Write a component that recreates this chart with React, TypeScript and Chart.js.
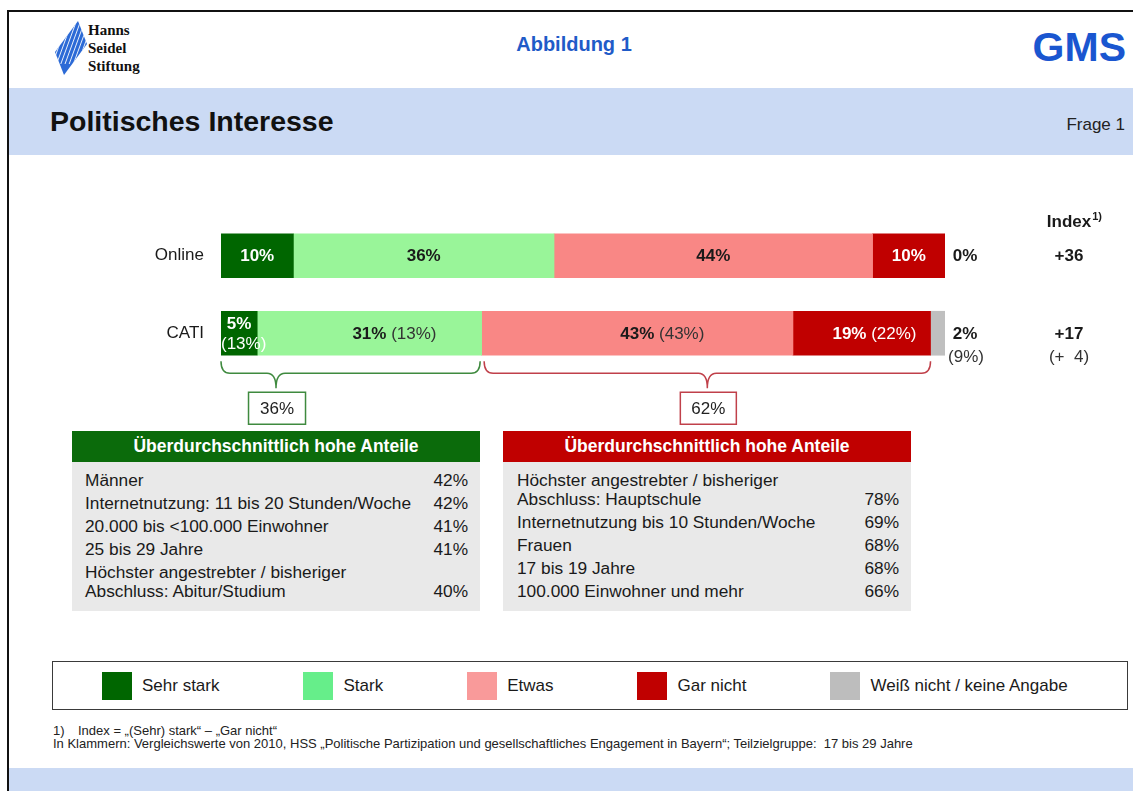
import React, { useEffect, useRef } from "react";
import { Chart, registerables } from "chart.js";

Chart.register(...registerables);

const FONT = '"Liberation Sans", Arial, Helvetica, sans-serif';
Chart.defaults.font.family = FONT;

// ---------------- data ----------------
const categories = ["Online", "CATI"];
const seriesLabels = ["Sehr stark", "Stark", "Etwas", "Gar nicht", "Weiß nicht / keine Angabe"];
const sehrStark = [10, 5];
const stark = [36, 31];
const etwas = [44, 43];
const garNicht = [10, 19];
const weissNicht = [0, 2];
// Vergleichswerte 2010 (only CATI)
const sehrStark2010 = [null, 13];
const stark2010 = [null, 13];
const etwas2010 = [null, 43];
const garNicht2010 = [null, 22];
const weissNicht2010 = [null, 9];

const barColors = ["#006600", "#99f599", "#f98785", "#c00000", "#bfbfbf"];
const legendColors = ["#006600", "#66ee8a", "#f99a9a", "#c00000", "#bdbdbd"];
const valueColors = ["#ffffff", "#1a1a1a", "#1a1a1a", "#ffffff", "#1a1a1a"];
const compColors = ["#ffffff", "#333333", "#333333", "#ffffff", "#333333"];

const tableTitle = "Überdurchschnittlich hohe Anteile";
const greenTableLabels = [
  "Männer",
  "Internetnutzung: 11 bis 20 Stunden/Woche",
  "20.000 bis <100.000 Einwohner",
  "25 bis 29 Jahre",
  "Höchster angestrebter / bisheriger\nAbschluss: Abitur/Studium",
];
const greenTableValues = [42, 42, 41, 41, 40];
const redTableLabels = [
  "Höchster angestrebter / bisheriger\nAbschluss: Hauptschule",
  "Internetnutzung bis 10 Stunden/Woche",
  "Frauen",
  "17 bis 19 Jahre",
  "100.000 Einwohner und mehr",
];
const redTableValues = [78, 69, 68, 68, 66];

const seriesValues = [sehrStark, stark, etwas, garNicht, weissNicht];
const seriesValues2010 = [sehrStark2010, stark2010, etwas2010, garNicht2010, weissNicht2010];

// layout constants
const GREEN_BRACE_TIP = 7.6; // in % units on the value axis

const bold = (s: number) => `bold ${s}px ${FONT}`;
const normal = (s: number) => `${s}px ${FONT}`;

function drawBrace(ctx: CanvasRenderingContext2D, x1: number, x2: number, tip: number, yTop: number, color: string) {
  const yMid = yTop + 12;
  const yTip = yTop + 27;
  const r = 9;
  ctx.strokeStyle = color;
  ctx.lineWidth = 1.5;
  ctx.beginPath();
  ctx.moveTo(x1, yTop);
  ctx.quadraticCurveTo(x1, yMid, x1 + r, yMid);
  ctx.lineTo(tip - r, yMid);
  ctx.quadraticCurveTo(tip, yMid, tip, yTip);
  ctx.quadraticCurveTo(tip, yMid, tip + r, yMid);
  ctx.lineTo(x2 - r, yMid);
  ctx.quadraticCurveTo(x2, yMid, x2, yTop);
  ctx.stroke();
}

function drawBox(ctx: CanvasRenderingContext2D, cx: number, top: number, w: number, h: number, color: string, text: string) {
  ctx.fillStyle = "#ffffff";
  ctx.fillRect(cx - w / 2, top, w, h);
  ctx.strokeStyle = color;
  ctx.lineWidth = 1.5;
  ctx.strokeRect(cx - w / 2, top, w, h);
  ctx.fillStyle = "#222222";
  ctx.font = normal(17);
  ctx.textAlign = "center";
  ctx.textBaseline = "middle";
  ctx.fillText(text, cx, top + h / 2 + 1);
}

const annotatePlugin = {
  id: "annotate",
  afterDatasetsDraw(chart: any) {
    const { ctx, chartArea } = chart;
    const xs = chart.scales.x;
    ctx.save();
    ctx.textBaseline = "middle";
    const n = seriesValues.length;
    for (let i = 0; i < categories.length; i++) {
      let yc = 0;
      for (let d = 0; d < n - 1; d++) {
        const el = chart.getDatasetMeta(d).data[i];
        const p = el.getProps(["x", "base", "y"], true);
        const left = Math.min(p.x, p.base);
        const right = Math.max(p.x, p.base);
        yc = p.y;
        const cx = (left + right) / 2;
        const v = seriesValues[d][i];
        const c = seriesValues2010[d][i];
        const vStr = `${v}%`;
        if (c === null || c === undefined) {
          ctx.font = bold(17);
          ctx.fillStyle = valueColors[d];
          ctx.textAlign = "center";
          ctx.fillText(vStr, cx, yc + 1);
          continue;
        }
        const cStr = `(${c}%)`;
        ctx.font = bold(17);
        const wv = ctx.measureText(vStr).width;
        ctx.font = normal(17);
        const wc = ctx.measureText(" " + cStr).width;
        const wc2 = ctx.measureText(cStr).width;
        if (wv + wc + 8 > right - left) {
          ctx.textAlign = "center";
          ctx.font = bold(17);
          ctx.fillStyle = valueColors[d];
          ctx.fillText(vStr, cx, yc - 9);
          ctx.font = normal(17);
          ctx.fillStyle = compColors[d];
          ctx.textAlign = "left";
          ctx.fillText(cStr, Math.max(left, cx - wc2 / 2), yc + 11);
        } else {
          let start = cx - wv / 2;
          if (start + wv + wc > right - 14) start = right - 14 - wv - wc;
          ctx.textAlign = "left";
          ctx.font = bold(17);
          ctx.fillStyle = valueColors[d];
          ctx.fillText(vStr, start, yc + 1);
          ctx.font = normal(17);
          ctx.fillStyle = compColors[d];
          ctx.fillText(" " + cStr, start + wv, yc + 1);
        }
      }
      // Weiß nicht column
      const colX = chartArea.right + 20;
      ctx.textAlign = "center";
      ctx.fillStyle = "#1a1a1a";
      ctx.font = bold(17);
      ctx.fillText(`${weissNicht[i]}%`, colX, yc + 1);
      if (weissNicht2010[i] !== null) {
        ctx.font = normal(17);
        ctx.fillStyle = "#333333";
        ctx.fillText(`(${weissNicht2010[i]}%)`, colX + 1, yc + 24);
      }
      // Index column
      const idxX = chartArea.right + 124;
      const idx = sehrStark[i] + stark[i] - garNicht[i];
      ctx.font = bold(17);
      ctx.fillStyle = "#1a1a1a";
      ctx.fillText(`${idx >= 0 ? "+" : "−"}${Math.abs(idx)}`, idxX, yc + 1);
      if (sehrStark2010[i] !== null) {
        const idx2 = (sehrStark2010[i] as number) + (stark2010[i] as number) - (garNicht2010[i] as number);
        ctx.font = normal(17);
        ctx.fillStyle = "#333333";
        ctx.fillText(`(${idx2 >= 0 ? "+" : "−"}  ${Math.abs(idx2)})`, idxX, yc + 24);
      }
      if (i === 0) {
        ctx.font = bold(17);
        const w = ctx.measureText("Index").width;
        ctx.fillText("Index", idxX, yc - 33);
        ctx.font = bold(11);
        ctx.textAlign = "left";
        ctx.fillText("1)", idxX + w / 2 + 1, yc - 39);
      }
    }

    // braces under CATI
    const last = categories.length - 1;
    const yBar = chart.getDatasetMeta(0).data[last].y;
    const yTop = yBar + 28;
    const greenSum = sehrStark[last] + stark[last];
    const redSum = etwas[last] + garNicht[last];
    const gx1 = xs.getPixelForValue(0);
    const gx2 = xs.getPixelForValue(greenSum) - 1.5;
    const gTip = xs.getPixelForValue(GREEN_BRACE_TIP);
    drawBrace(ctx, gx1, gx2, gTip, yTop, "#3f8a3f");
    const rx1 = xs.getPixelForValue(greenSum) + 2.5;
    const rx2 = xs.getPixelForValue(greenSum + redSum);
    const rTip = (rx1 + rx2) / 2;
    drawBrace(ctx, rx1, rx2, rTip, yTop, "#c0404a");
    drawBox(ctx, gTip + 1, yTop + 31, 57, 32, "#3f8a3f", `${greenSum}%`);
    drawBox(ctx, rTip + 1, yTop + 31, 56, 32, "#c0404a", `${redSum}%`);
    ctx.restore();
  },
};

function Table(props: { left: number; color: string; labels: string[]; values: number[]; padL: number }) {
  const { left, color, labels, values, padL } = props;
  return (
    <div style={{ position: "absolute", left, top: 431, width: 408 }}>
      <div
        style={{
          height: 31,
          background: color,
          color: "#fff",
          fontWeight: "bold",
          fontSize: 17.5,
          lineHeight: "31px",
          textAlign: "center",
        }}
      >
        {tableTitle}
      </div>
      <div
        style={{
          height: 149,
          boxSizing: "border-box",
          background: "#e9e9e9",
          paddingTop: 8.5,
          paddingLeft: padL,
          paddingRight: 12,
          fontSize: 17.3,
          color: "#1a1a1a",
        }}
      >
        {labels.map((l, i) => (
          <div
            key={i}
            style={{ display: "flex", justifyContent: "space-between", alignItems: "flex-end", lineHeight: "19px", marginBottom: 4 }}
          >
            <span style={{ whiteSpace: "pre-line" }}>{l}</span>
            <span>{values[i]}%</span>
          </div>
        ))}
      </div>
    </div>
  );
}

export default function App() {
  const canvasRef = useRef<HTMLCanvasElement>(null);

  useEffect(() => {
    const chart = new Chart(canvasRef.current as HTMLCanvasElement, {
      type: "bar",
      data: {
        labels: categories,
        datasets: seriesValues.map((vals, i) => ({
          label: seriesLabels[i],
          data: vals,
          backgroundColor: barColors[i],
          borderWidth: 0,
          barThickness: 44,
        })),
      },
      options: {
        indexAxis: "y",
        responsive: true,
        maintainAspectRatio: false,
        animation: false,
        layout: { padding: { top: 17, bottom: 58, right: 188, left: 0 } },
        scales: {
          x: { stacked: true, min: 0, max: 100, display: false },
          y: {
            stacked: true,
            grid: { display: false, drawTicks: false },
            border: { display: false },
            ticks: { padding: 17, color: "#1a1a1a", font: { size: 17, family: FONT } },
            afterFit: (s: any) => {
              s.width = 221;
              s.paddingTop = 0;
              s.paddingBottom = 0;
            },
          },
        },
        plugins: { legend: { display: false }, tooltip: { enabled: false } },
      } as any,
      plugins: [annotatePlugin],
    });
    return () => chart.destroy();
  }, []);

  return (
    <div
      style={{
        position: "fixed",
        left: 0,
        top: 0,
        width: 1133,
        height: 791,
        overflow: "hidden",
        background: "#fff",
        fontFamily: FONT,
        color: "#1a1a1a",
      }}
    >
      {/* slide frame */}
      <div
        style={{
          position: "absolute",
          left: 7,
          top: 10,
          width: 1200,
          height: 900,
          border: "2px solid #111",
          boxSizing: "border-box",
        }}
      />
      {/* logo */}
      <svg style={{ position: "absolute", left: 54, top: 20 }} width={34} height={56} viewBox="54 20 34 56">
        <defs>
          <clipPath id="dia">
            <polygon points="78,21 87,44 64,75 55,52" />
          </clipPath>
        </defs>
        <g clipPath="url(#dia)">
          <rect x={54} y={20} width={34} height={56} fill="#2c6ad6" />
          {[0, 1, 2, 3, 4, 5, 6, 7, 8].map((k) => (
            <line key={k} x1={44 + k * 4.2} y1={64} x2={60 + k * 4.2} y2={20} stroke="#ffffff" strokeWidth={0.9} />
          ))}
        </g>
      </svg>
      <div
        style={{
          position: "absolute",
          left: 88,
          top: 21,
          fontFamily: '"Liberation Serif", "Times New Roman", serif',
          fontWeight: "bold",
          fontSize: 15,
          lineHeight: "18px",
          color: "#111",
        }}
      >
        Hanns
        <br />
        Seidel
        <br />
        Stiftung
      </div>
      <div
        style={{
          position: "absolute",
          left: 474,
          width: 200,
          top: 32,
          lineHeight: "24px",
          textAlign: "center",
          fontWeight: "bold",
          fontSize: 20,
          color: "#1f5bc8",
        }}
      >
        Abbildung 1
      </div>
      <div
        style={{
          position: "absolute",
          right: 7,
          top: 24,
          lineHeight: "46px",
          fontWeight: "bold",
          fontSize: 41,
          color: "#1a56d0",
        }}
      >
        GMS
      </div>
      {/* title band */}
      <div style={{ position: "absolute", left: 9, top: 88, width: 1130, height: 67, background: "#cbdaf4" }} />
      <div
        style={{ position: "absolute", left: 50, top: 104, lineHeight: "34px", fontWeight: "bold", fontSize: 28.5, color: "#111" }}
      >
        Politisches Interesse
      </div>
      <div style={{ position: "absolute", right: 8, top: 114, lineHeight: "22px", fontSize: 17, color: "#222" }}>
        Frage 1
      </div>

      {/* chart */}
      <div style={{ position: "absolute", left: 0, top: 200, width: 1133, height: 230 }}>
        <canvas ref={canvasRef} />
      </div>

      <Table left={72} color="#0b6b0b" labels={greenTableLabels} values={greenTableValues} padL={13} />
      <Table left={503} color="#c00000" labels={redTableLabels} values={redTableValues} padL={14} />

      {/* legend */}
      <div
        style={{
          position: "absolute",
          left: 52,
          top: 661,
          width: 1076,
          height: 49,
          boxSizing: "border-box",
          border: "1.5px solid #3a3a3a",
          display: "flex",
          alignItems: "center",
          paddingLeft: 49,
          gap: 84,
          fontSize: 17,
          color: "#1a1a1a",
        }}
      >
        {seriesLabels.map((l, i) => (
          <div key={i} style={{ display: "flex", alignItems: "center" }}>
            <div style={{ width: 30, height: 28, background: legendColors[i], marginRight: 10 }} />
            <span>{l}</span>
          </div>
        ))}
      </div>

      {/* footnote */}
      <div style={{ position: "absolute", left: 53, top: 724, fontSize: 13, lineHeight: "13px", color: "#222" }}>
        <div>
          <span style={{ display: "inline-block", width: 25 }}>1)</span>Index = „(Sehr) stark“ – „Gar nicht“
        </div>
        <div>
          In Klammern: Vergleichswerte von 2010, HSS „Politische Partizipation und gesellschaftliches Engagement in
          Bayern“; Teilzielgruppe:&nbsp; 17 bis 29 Jahre
        </div>
      </div>

      {/* bottom band */}
      <div style={{ position: "absolute", left: 9, top: 768, width: 1130, height: 30, background: "#cbdaf4" }} />
    </div>
  );
}
